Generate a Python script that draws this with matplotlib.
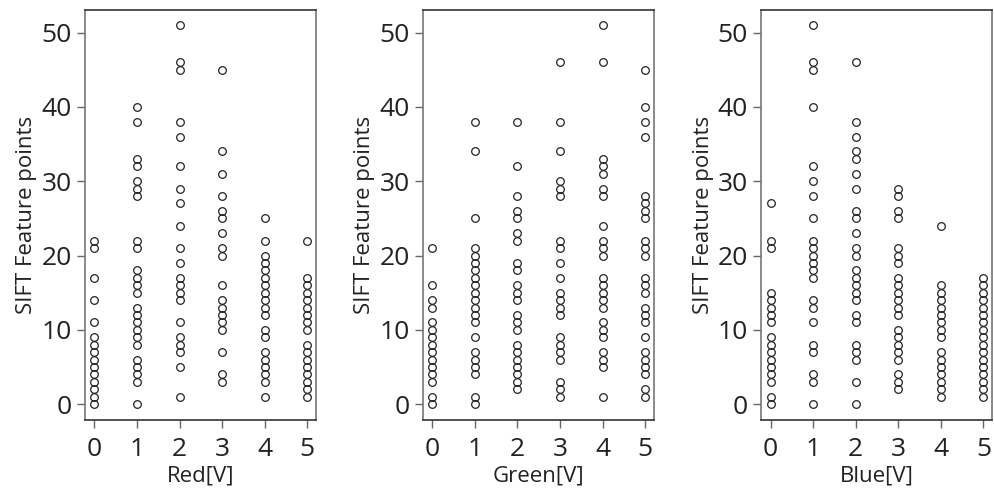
import matplotlib
matplotlib.use('Agg')
import matplotlib.pyplot as plt

# values: one list per voltage step
red = {
    0: [0, 1, 2, 3, 4, 5, 6, 7, 8, 9, 11, 14, 17, 21, 22],
    1: [0, 3, 4, 5, 6, 8, 9, 10, 11, 12, 13, 15, 16, 17, 18, 21, 22, 28, 29, 30, 32, 33, 38, 40],
    2: [1, 5, 7, 8, 9, 11, 14, 15, 16, 17, 19, 21, 24, 27, 29, 32, 36, 38, 45, 46, 51],
    3: [3, 4, 7, 10, 11, 12, 13, 14, 16, 20, 21, 23, 25, 26, 28, 31, 34, 45],
    4: [1, 3, 4, 5, 6, 7, 9, 10, 12, 13, 14, 15, 16, 17, 18, 19, 20, 22, 25],
    5: [1, 2, 3, 4, 5, 6, 7, 8, 10, 11, 12, 13, 14, 15, 16, 17, 22],
}
green = {
    0: [0, 1, 3, 4, 5, 6, 7, 8, 9, 10, 11, 13, 14, 16, 21],
    1: [0, 1, 4, 5, 6, 7, 9, 11, 12, 13, 14, 15, 16, 17, 18, 19, 20, 21, 25, 34, 38],
    2: [2, 3, 4, 5, 6, 7, 8, 10, 11, 12, 14, 15, 16, 18, 19, 22, 23, 25, 26, 28, 32, 38],
    3: [1, 2, 3, 6, 7, 8, 9, 12, 13, 14, 15, 17, 19, 21, 22, 28, 29, 30, 34, 38, 46],
    4: [1, 5, 6, 7, 9, 10, 11, 13, 14, 15, 16, 17, 20, 21, 22, 24, 28, 29, 31, 32, 33, 46, 51],
    5: [1, 2, 4, 5, 6, 7, 9, 11, 12, 13, 15, 16, 17, 20, 21, 22, 25, 26, 27, 28, 36, 38, 40, 45],
}
blue = {
    0: [0, 1, 3, 4, 5, 6, 7, 8, 9, 11, 12, 13, 14, 15, 21, 22, 27],
    1: [0, 3, 4, 7, 8, 11, 13, 14, 17, 18, 19, 20, 21, 22, 25, 28, 30, 32, 40, 45, 46, 51],
    2: [0, 3, 6, 7, 8, 11, 12, 14, 15, 16, 17, 18, 20, 21, 23, 25, 26, 29, 31, 33, 34, 36, 38, 46],
    3: [2, 3, 4, 6, 7, 8, 9, 10, 12, 13, 14, 15, 16, 17, 19, 20, 21, 25, 26, 28, 29],
    4: [1, 2, 3, 4, 5, 6, 7, 9, 10, 11, 12, 13, 14, 15, 16, 24],
    5: [1, 2, 3, 4, 5, 6, 7, 8, 9, 10, 11, 12, 13, 14, 15, 16, 17],
}
xlabels = ['Red[V]', 'Green[V]', 'Blue[V]']
ylabel = 'SIFT Feature points'

plt.rcParams['font.family'] = ['Open Sans', 'DejaVu Sans']

fig = plt.figure(figsize=(9.95, 4.96), dpi=100)
lefts = [0.0854, 0.425, 0.765]
tick_col = '#666666'
txt = '#222222'

for left, data, xl in zip(lefts, [red, green, blue], xlabels):
    ax = fig.add_axes([left, 0.153, 0.232, 0.827])
    for v, pts in data.items():
        ax.plot([v] * len(pts), pts, 'o', mfc='none', mec='#222222',
                ms=5.5, mew=0.9, ls='none')
    ax.set_xlim(-0.22, 5.2)
    ax.set_ylim(-2.15, 53.05)
    ax.set_xticks(range(6))
    ax.set_yticks([0, 10, 20, 30, 40, 50])
    ax.tick_params(labelsize=19, length=6, width=1, color=tick_col,
                   labelcolor=txt)
    ax.tick_params(axis='x', pad=6)
    ax.spines['top'].set_color('#333333')
    ax.spines['bottom'].set_color('#333333')
    ax.spines['left'].set_color('#777777')
    ax.spines['right'].set_color('#777777')
    for s in ax.spines.values():
        s.set_linewidth(1.2)
    ax.set_xlabel(xl, fontsize=16, color=txt, labelpad=3)
    ax.set_ylabel(ylabel, fontsize=16, color=txt, labelpad=3)

fig.savefig('out.png', dpi=100)
